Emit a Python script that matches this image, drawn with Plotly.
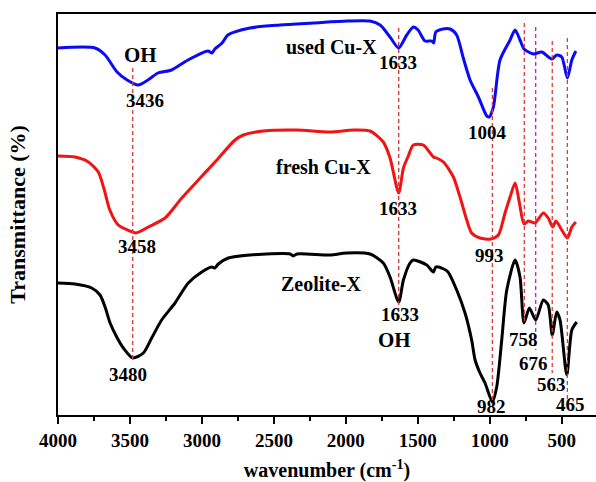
import plotly.graph_objects as go

# ---- data (wavenumber cm-1, transmittance a.u.) ----
used_wn = [4000, 3743, 3673, 3590, 3520, 3442, 3375, 3305, 3210, 3097, 2958, 2930, 2910, 2860, 2820,
           2666, 2457, 2228, 1992, 1832, 1762, 1693, 1633, 1577, 1531, 1498, 1450, 1403, 1390, 1375,
           1325, 1276, 1230, 1186, 1137, 1079, 1021, 1004, 975, 929, 859, 824, 790, 762, 697, 639,
           569, 535, 500, 461, 430, 402]
used_t = [367, 367, 360, 343, 335, 330, 335, 342, 345, 355, 364, 362, 366, 372, 380,
          387, 390, 392, 394, 394, 390, 378, 367, 380, 388, 385, 374, 374, 372, 383,
          386, 386, 380, 358, 335, 318, 299, 298, 308, 355, 375, 385, 375, 366, 361, 363,
          356, 360, 358, 337, 355, 364]

fresh_wn = [4000, 3882, 3789, 3720, 3680, 3640, 3581, 3500, 3458, 3373, 3256, 3140, 3025, 2909, 2770,
            2712, 2573, 2341, 2110, 1948, 1832, 1740, 1693, 1633, 1600, 1566, 1531, 1462, 1392, 1370,
            1322, 1253, 1207, 1160, 1126, 1068, 993, 940, 894, 859, 824, 794, 762, 732, 686, 628,
            594, 563, 540, 500, 461, 430, 402]
fresh_t = [259, 258, 253, 243, 226, 205, 190, 184, 182, 188, 197, 217, 235, 253, 275,
           280, 284, 285, 283, 285, 284, 273, 257, 222, 247, 259, 270, 270, 258, 257,
           253, 238, 218, 195, 182, 177, 176, 180, 202, 218, 232, 212, 191, 194, 192, 202,
           197, 188, 194, 185, 177, 188, 193]

zeo_wn = [4000, 3882, 3766, 3708, 3673, 3638, 3592, 3546, 3480, 3407, 3349, 3280, 3187, 3095, 3001,
          2932, 2910, 2886, 2817, 2666, 2388, 2365, 2340, 2110, 1994, 1832, 1740, 1693, 1633, 1600,
          1554, 1531, 1438, 1392, 1375, 1320, 1290, 1230, 1172, 1126, 1102, 1068, 1033, 982, 952,
          917, 882, 824, 790, 762, 725, 681, 628, 594, 566, 535, 512, 465, 430, 396]
zeo_t = [132, 131, 127, 120, 108, 92, 78, 67, 57, 62, 77, 95, 112, 132, 143,
         148, 147, 151, 157, 160, 161, 159, 161, 160, 162, 161, 152, 138, 113, 135,
         152, 155, 150, 143, 148, 146, 143, 125, 102, 75, 55, 42, 32, 13, 28,
         75, 125, 155, 138, 92, 107, 95, 115, 110, 80, 103, 95, 40, 85, 93]

# guide lines: wavenumber, top and bottom transmittance, colour
guide_wn = [3481, 1633, 982, 760, 681, 566, 461]
guide_top = [347, 387, 327, 392, 388, 374, 377]
guide_bot = [55, 95, 8, 92, 65, 42, 15]
guide_col = ["#e03a3a", "#d0383a", "#e03a3a", "#e03a3a", "#d4208c", "#e03a3a", "#e03a3a"]

# labels: text, wavenumber, transmittance, size
label_txt = ["OH", "3436", "used Cu-X", "1633", "1004", "fresh Cu-X", "1633", "3458", "993",
             "Zeolite-X", "1633", "OH", "3480", "758", "676", "563", "982", "465"]
label_wn = [3430, 3395, 2103, 1637, 1019, 2152, 1637, 3448, 1005,
            2172, 1623, 1662, 3514, 769, 699, 574, 986, 442]
label_t = [360, 315, 368, 353, 283, 248, 207, 169, 160,
           131, 101, 75, 41, 76, 52, 31, 9, 11]
label_size = [21, 19, 20, 19, 19, 20, 19, 19, 19,
              20, 19, 21, 19, 19, 19, 19, 19, 19]

tick_vals = [4000, 3500, 3000, 2500, 2000, 1500, 1000, 500]

FONT = "Liberation Serif"

fig = go.Figure()
for wn, t, col in [(used_wn, used_t, "#0a0af5"), (fresh_wn, fresh_t, "#f01414"), (zeo_wn, zeo_t, "#000000")]:
    fig.add_trace(go.Scatter(x=wn, y=t, mode="lines",
                             line=dict(color=col, width=3, shape="spline", smoothing=0.7),
                             showlegend=False, hoverinfo="skip"))

for w, a, b, c in zip(guide_wn, guide_top, guide_bot, guide_col):
    fig.add_trace(go.Scatter(x=[w, w], y=[a, b], mode="lines",
                             line=dict(color=c, width=1.3, dash="4px,3px"),
                             showlegend=False, hoverinfo="skip"))

for txt, w, t, s in zip(label_txt, label_wn, label_t, label_size):
    fig.add_annotation(x=w, y=t, text="<b>%s</b>" % txt, showarrow=False,
                       font=dict(family=FONT, size=s, color="black"),
                       xanchor="center", yanchor="middle")

fig.update_layout(
    width=596, height=482,
    margin=dict(l=58, r=0, t=14, b=67, autoexpand=False),
    paper_bgcolor="white", plot_bgcolor="white",
    xaxis=dict(range=[4000, 262], tickvals=tick_vals,
               ticktext=["<b>%d</b>" % v for v in tick_vals],
               ticks="outside", ticklen=7, tickwidth=2, tickcolor="black",
               minor=dict(dtick=250, ticks="outside", ticklen=4, tickwidth=2, tickcolor="black", tick0=0),
               showline=True, linecolor="black", linewidth=2, mirror=True,
               showgrid=False, zeroline=False, automargin=False,
               tickfont=dict(family=FONT, size=19, color="black"),
               title=dict(text="<b>wavenumber (cm<sup>-1</sup>)</b>",
                          font=dict(family=FONT, size=20, color="black"), standoff=20)),
    yaxis=dict(range=[0, 401], showticklabels=False, ticks="",
               showline=True, linecolor="black", linewidth=2,
               showgrid=False, zeroline=False, automargin=False,
               title=dict(text="<b>Transmittance (%)</b>",
                          font=dict(family=FONT, size=22, color="black"), standoff=24)),
)

fig.write_html("out.html")
